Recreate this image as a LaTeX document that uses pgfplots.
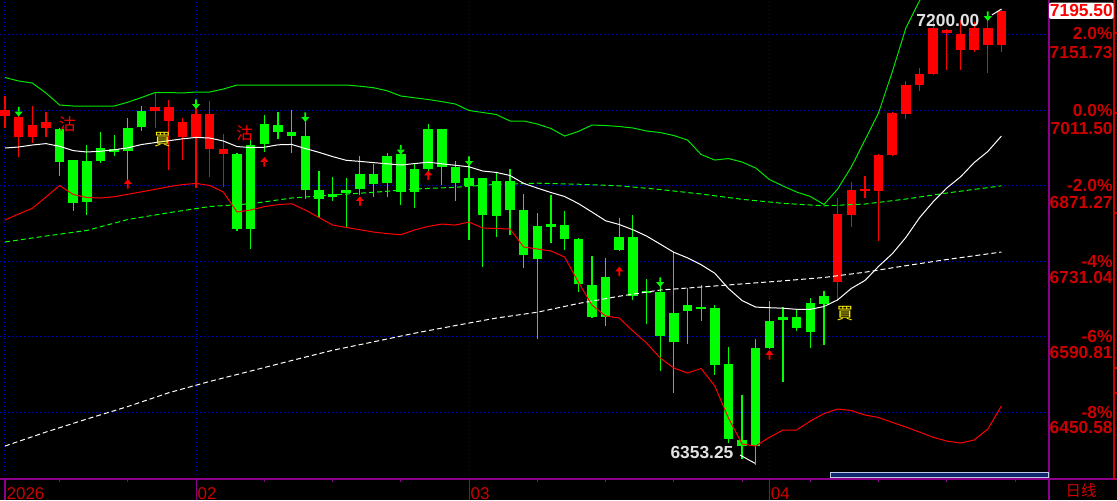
\documentclass[border=0pt]{standalone}
\usepackage{pgfplots}
\pgfplotsset{compat=1.18}
\usepackage{pgfplotstable}
\usepackage{fontspec}
\setmainfont{Liberation Sans}
\newfontfamily\cjk{Noto Sans CJK TC}

\definecolor{upred}{RGB}{255,0,0}
\definecolor{dngreen}{RGB}{0,255,0}
\definecolor{gridblue}{RGB}{0,0,200}
\definecolor{axpurple}{RGB}{140,0,140}
\definecolor{lblred}{RGB}{205,0,0}
\definecolor{barnavy}{RGB}{15,40,110}
\definecolor{hilo}{RGB}{225,225,225}

% signal arrows
\pgfdeclareplotmark{sigdn}{%
  \pgfpathrectangle{\pgfqpoint{-0.22\pgfplotmarksize}{0pt}}{\pgfqpoint{0.44\pgfplotmarksize}{1.3\pgfplotmarksize}}%
  \pgfpathmoveto{\pgfqpoint{-\pgfplotmarksize}{0.1\pgfplotmarksize}}%
  \pgfpathlineto{\pgfqpoint{\pgfplotmarksize}{0.1\pgfplotmarksize}}%
  \pgfpathlineto{\pgfqpoint{0pt}{-1.1\pgfplotmarksize}}%
  \pgfpathclose
  \pgfusepathqfill}
\pgfdeclareplotmark{sigup}{%
  \pgfpathrectangle{\pgfqpoint{-0.22\pgfplotmarksize}{0pt}}{\pgfqpoint{0.44\pgfplotmarksize}{-1.3\pgfplotmarksize}}%
  \pgfpathmoveto{\pgfqpoint{-\pgfplotmarksize}{-0.1\pgfplotmarksize}}%
  \pgfpathlineto{\pgfqpoint{\pgfplotmarksize}{-0.1\pgfplotmarksize}}%
  \pgfpathlineto{\pgfqpoint{0pt}{1.1\pgfplotmarksize}}%
  \pgfpathclose
  \pgfusepathqfill}

% rising days (red)
\pgfplotstableread{
i o h l c
0 7000.9 7037.5 6978.6 7011.5
1 6961.4 7007.8 6924.8 6998.5
2 6961.4 7019.0 6950.8 6983.6
3 6978.6 7007.8 6961.4 6989.2
11 7009.6 7043.6 6978.6 7017.1
12 6991.1 7030.1 6900.1 7017.1
13 6961.4 6996.6 6918.7 6989.2
14 6961.4 7030.0 6866.7 7004.1
15 6939.1 7028.2 6887.1 7004.1
16 6929.8 6966.9 6868.5 6939.1
61 6692.1 6848.1 6656.8 6818.4
62 6816.5 6877.8 6794.2 6863.0
63 6861.1 6888.9 6848.1 6864.8
64 6861.1 6929.8 6768.2 6927.9
65 6927.9 7007.8 6926.0 7005.9
66 7004.1 7065.4 6994.8 7057.9
67 7057.9 7089.5 7046.8 7078.4
68 7078.4 7187.9 7076.5 7163.8
69 7154.5 7162.0 7085.8 7160.1
70 7122.9 7178.6 7085.8 7152.6
71 7122.9 7175.5 7120.0 7163.8
72 7132.2 7187.0 7080.2 7163.8
73 7132.2 7200.0 7119.2 7195.5
}\upk

% falling days (green)
\pgfplotstableread{
i o h l c
4 6976.2 6977.5 6889.5 6915.5
5 6918.7 6919.5 6824.5 6839.4
6 6916.8 6946.5 6816.5 6841.2
7 6940.9 6970.6 6913.6 6916.8
8 6939.1 6965.0 6926.1 6934.1
9 6978.1 6996.6 6881.5 6935.9
10 7009.6 7019.0 6972.5 6979.9
17 6929.8 6931.0 6787.4 6790.5
18 6946.5 6965.0 6753.4 6790.5
19 6985.5 7002.2 6933.5 6948.4
20 6983.6 7007.8 6957.6 6970.6
21 6970.6 7011.5 6931.6 6963.2
22 6963.2 6996.6 6846.2 6863.0
23 6863.0 6898.2 6810.9 6846.2
24 6855.5 6887.1 6842.5 6850.0
25 6863.0 6885.2 6794.2 6857.4
26 6892.7 6926.1 6853.7 6864.8
27 6892.7 6911.2 6850.0 6874.1
28 6926.1 6931.6 6850.0 6875.9
29 6929.8 6933.5 6835.1 6859.2
30 6901.9 6913.1 6829.5 6859.2
31 6976.2 6985.5 6898.2 6901.9
32 6976.2 6977.0 6872.2 6905.7
33 6905.7 6916.8 6842.5 6876.0
34 6885.2 6909.4 6770.1 6870.4
35 6885.2 6886.0 6720.0 6816.5
36 6879.7 6894.5 6775.7 6814.7
37 6879.7 6901.9 6779.4 6825.8
38 6825.8 6855.5 6718.1 6742.3
39 6796.1 6820.2 6586.3 6734.8
40 6799.8 6853.7 6764.5 6794.2
41 6798.0 6824.0 6751.5 6772.0
42 6772.0 6773.0 6673.5 6688.4
43 6686.5 6740.4 6625.0 6627.1
44 6701.4 6736.7 6610.4 6627.1
45 6775.7 6811.0 6750.0 6751.5
46 6775.7 6816.5 6658.7 6666.1
47 6675.4 6697.7 6614.1 6673.5
48 6673.5 6697.7 6526.8 6591.8
49 6634.5 6747.8 6486.0 6580.7
50 6649.4 6681.0 6577.0 6638.2
51 6645.7 6686.5 6619.7 6643.8
52 6643.8 6649.4 6519.4 6538.0
53 6539.8 6571.4 6393.2 6400.6
54 6398.7 6482.3 6363.4 6387.6
55 6569.5 6586.3 6353.25 6387.6
56 6619.7 6656.8 6568.0 6569.5
57 6627.1 6645.7 6506.4 6621.5
58 6627.1 6642.0 6601.1 6606.7
59 6653.1 6662.4 6569.5 6599.3
60 6666.1 6675.4 6575.1 6651.3
}\dnk

% bollinger upper
\pgfplotstableread{
i v
0 7071.9
1 7065.4
2 7061.6
3 7043.1
4 7020.8
5 7018.9
8 7018.9
9 7026.0
10 7034.7
11 7044.0
12 7044.0
13 7043.1
14 7044.9
15 7044.9
16 7050.5
17 7057.9
25 7057.9
26 7055.7
27 7052.9
28 7047.2
29 7037.5
30 7034.2
31 7031.0
32 7027.1
33 7022.6
34 7010.6
35 7006.9
36 7003.1
37 6991.1
38 6991.1
39 6985.5
40 6977.1
41 6963.2
42 6971.6
43 6983.6
44 6982.7
45 6980.9
46 6978.1
47 6972.5
48 6969.7
49 6964.1
50 6955.8
51 6928.9
52 6918.6
53 6921.4
54 6914.9
55 6903.8
56 6882.4
57 6870.4
58 6859.2
59 6850.9
60 6836.0
61 6864.8
62 6905.7
63 6955.8
64 7006.3
65 7082.1
66 7163.8
67 7214.3
68 7264.1
69 7300.0
}\upb

% bollinger middle
\pgfplotstableread{
i v
0 6940.9
1 6942.8
2 6946.5
3 6949.1
4 6944.1
5 6936.1
6 6933.5
7 6935.0
8 6937.6
9 6941.3
10 6947.4
11 6951.0
12 6954.5
13 6958.0
14 6960.6
15 6959.5
16 6953.9
17 6943.7
18 6941.7
19 6942.4
20 6946.9
21 6947.6
22 6940.0
23 6932.9
24 6925.0
25 6918.1
26 6916.1
27 6913.8
28 6911.6
29 6909.4
30 6912.0
31 6914.6
32 6911.6
33 6908.8
34 6906.0
35 6898.2
36 6895.6
37 6889.9
38 6875.2
39 6866.5
40 6858.3
41 6850.9
42 6837.9
43 6822.1
44 6805.9
45 6798.9
46 6789.2
47 6777.5
48 6762.5
49 6747.3
50 6737.0
51 6724.2
52 6708.4
53 6680.0
54 6657.7
55 6645.5
56 6644.4
57 6643.4
58 6641.4
59 6641.4
60 6646.6
61 6658.9
62 6680.2
63 6694.9
64 6721.2
65 6744.5
66 6774.9
67 6811.5
68 6841.2
69 6866.8
70 6887.3
71 6913.8
72 6934.4
73 6963.2
}\mdb

% bollinger lower
\pgfplotstableread{
i v
0 6807.2
1 6818.4
2 6829.0
3 6849.9
4 6871.3
5 6854.6
6 6849.0
7 6848.1
8 6850.5
9 6855.0
10 6859.6
11 6864.2
12 6869.1
13 6873.0
14 6875.2
15 6871.3
16 6859.2
17 6822.1
18 6825.8
19 6832.1
20 6835.8
21 6837.5
22 6825.8
23 6811.9
24 6797.9
25 6793.5
26 6789.2
27 6784.9
28 6782.0
29 6779.9
30 6788.7
31 6795.3
32 6799.8
33 6797.9
34 6803.5
35 6792.4
36 6791.4
37 6790.5
38 6757.1
39 6753.4
40 6749.7
41 6738.5
42 6692.1
43 6649.4
44 6629.0
45 6625.2
46 6601.1
47 6578.8
48 6551.0
49 6532.4
50 6523.1
51 6531.5
52 6499.0
53 6439.5
54 6391.3
55 6387.5
56 6403.7
57 6417.3
58 6417.3
59 6434.0
60 6447.7
61 6456.3
62 6453.5
63 6445.1
64 6440.5
65 6431.5
66 6422.8
67 6413.5
68 6403.7
69 6396.8
70 6393.1
71 6398.7
72 6419.1
73 6461.8
}\lob

% long averages (dashed)
\pgfplotstableread{
i g w
0 6766.4 6387.5
3 6777.5 6413.5
6 6787.9 6437.7
9 6808.2 6460.9
12 6820.8 6486.5
15 6832.3 6507.5
18 6837.3 6526.8
21 6848.1 6546.3
24 6853.7 6565.3
27 6858.7 6581.0
30 6864.8 6597.0
33 6868.0 6611.3
36 6873.5 6625.2
39 6875.6 6636.0
42 6873.7 6652.2
45 6870.7 6665.7
48 6863.9 6677.2
51 6855.5 6682.8
54 6845.7 6688.6
57 6838.2 6694.3
60 6833.6 6700.5
63 6836.9 6710.3
66 6846.2 6722.4
69 6857.4 6733.9
73 6870.7 6747.8
}\mas

\begin{document}
\begin{tikzpicture}
\path[use as bounding box] (0,0) rectangle (558.5pt,250pt);
\fill[black] (0,0) rectangle (558.5pt,250pt);

\begin{axis}[
  at={(0pt,10.5pt)}, anchor=south west,
  scale only axis, width=524.25pt, height=239.5pt,
  xmin=-0.366, xmax=76.45, ymin=6326.3, ymax=7215.8,
  axis line style={draw=none},
  xtick={0,14,34,56}, xticklabels={2026,02,03,04},
  xticklabel style={anchor=north west, inner sep=0pt, yshift=-3.9pt, xshift=0.6pt,
    text=lblred, font=\fontsize{8.5}{9}\selectfont},
  ytick={6450.58,6590.81,6731.04,6871.27,7011.5,7151.73}, yticklabels={},
  major tick length=0pt,
  xmajorgrids, ymajorgrids,
  grid style={gridblue, line width=0.5pt, dash pattern=on 0.5pt off 1.5pt},
  clip mode=individual,
  candle/.style={draw=none, mark=none, forget plot,
    error bars/y dir=both, error bars/y explicit, error bars/error mark=none},
]
% wicks
\addplot[candle, error bars/error bar style={draw=upred, line width=0.6pt}]
  table[x=i, y expr={(\thisrow{h}+\thisrow{l})/2}, y error expr={(\thisrow{h}-\thisrow{l})/2}] {\upk};
\addplot[candle, error bars/error bar style={draw=dngreen, line width=0.6pt}]
  table[x=i, y expr={(\thisrow{h}+\thisrow{l})/2}, y error expr={(\thisrow{h}-\thisrow{l})/2}] {\dnk};
% bodies
\addplot[candle, error bars/error bar style={draw=upred, line width=4.75pt}]
  table[x=i, y expr={(\thisrow{o}+\thisrow{c})/2}, y error expr={max(abs(\thisrow{c}-\thisrow{o})/2,0.9)}] {\upk};
\addplot[candle, error bars/error bar style={draw=dngreen, line width=4.75pt}]
  table[x=i, y expr={(\thisrow{o}+\thisrow{c})/2}, y error expr={max(abs(\thisrow{c}-\thisrow{o})/2,0.9)}] {\dnk};

% indicator lines
\addplot[dngreen, mark=none, line width=0.5pt, dash pattern=on 2.5pt off 1.5pt] table[x=i, y=g] {\mas};
\addplot[white, mark=none, line width=0.5pt, dash pattern=on 2.5pt off 1.5pt] table[x=i, y=w] {\mas};
\addplot[dngreen!90!black, mark=none, line width=0.5pt] table[x=i, y=v] {\upb};
\addplot[white, mark=none, line width=0.5pt] table[x=i, y=v] {\mdb};
\addplot[upred, mark=none, line width=0.5pt] table[x=i, y=v] {\lob};

% signals
\addplot[only marks, mark=sigdn, mark size=2pt, color=dngreen] coordinates {
  (1,7007.8) (14,7021.7) (22,6997.6) (29,6937.2) (34,6915.9) (48,6691.2) (72,7185.1)};
\addplot[only marks, mark=sigup, mark size=2pt, color=upred] coordinates {
  (9,6875.0) (19,6915.9) (26,6843.4) (31,6890.8) (45,6712.5) (56,6557.5)};

% high / low markers
\addplot[white, mark=none, line width=0.5pt] coordinates {(72.3,7188) (73.0,7199)};
\addplot[white, mark=none, line width=0.5pt] coordinates {(53.85,6370.8) (54.95,6355.4)};
\node[text=hilo, inner sep=0pt, font=\bfseries\fontsize{8.7}{9}\selectfont] at (axis cs:69.08,7177.7) {7200.00};
\node[text=hilo, inner sep=0pt, font=\bfseries\fontsize{8.7}{9}\selectfont] at (axis cs:51.06,6376.4) {6353.25};

\node[text=upred, inner sep=0pt, font=\cjk\fontsize{8.3}{9}\selectfont] at (axis cs:4.58,6984.6) {沽};
\node[text=upred, inner sep=0pt, font=\cjk\fontsize{8.3}{9}\selectfont] at (axis cs:17.55,6967.9) {沽};
\node[text=yellow, inner sep=0pt, font=\cjk\fontsize{8.3}{9}\selectfont] at (axis cs:11.54,6956.7) {買};
\node[text=yellow, inner sep=0pt, font=\cjk\fontsize{8.3}{9}\selectfont] at (axis cs:61.54,6633.6) {買};
\end{axis}

\begin{scope}[x=0.5pt, y=0.5pt]
  % frame lines
  \draw[axpurple, line width=0.6pt] (0,21) -- (1117,21);
  \draw[axpurple, line width=0.6pt] (1049,0) -- (1049,500);
  \draw[lblred, line width=0.6pt] (1114,500) -- (1114,20);
  \foreach \yy in {467,387,287,132,107} \draw[lblred, line width=0.6pt] (1114,\yy) -- (1117,\yy);
  \foreach \xx in {5,196.1,469.1,769.4} \draw[axpurple, line width=0.6pt] (\xx,21) -- (\xx,0);
  \foreach \k in {4,9,...,74} \draw[axpurple, line width=0.6pt] ({5+13.65*\k},21) -- ++(0,-3);
  % scroll bar
  \draw[fill=barnavy, draw={rgb,255:red,190;green,200;blue,230}, line width=0.5pt] (830,22.7) rectangle (1048,27.3);
  % right scale
  \begin{scope}[every node/.style={anchor=east, inner sep=0pt, text=lblred, font=\bfseries\fontsize{8.7}{9}\selectfont}]
    \node at (1113,466.5) {2.0\%};
    \node at (1113,447.5) {7151.73};
    \node at (1113,389) {0.0\%};
    \node at (1113,371.5) {7011.50};
    \node at (1113,314) {-2.0\%};
    \node at (1113,297) {6871.27};
    \node at (1113,238) {-4\%};
    \node at (1113,222) {6731.04};
    \node at (1113,163) {-6\%};
    \node at (1113,147.5) {6590.81};
    \node at (1113,88) {-8\%};
    \node at (1113,72.5) {6450.58};
  \end{scope}
  \node[anchor=east, fill=white, rounded corners=1pt, inner xsep=0.4pt, inner ysep=1pt,
    text=upred, font=\bfseries\fontsize{8.7}{9}\selectfont] at (1114,489.2) {7195.50};
  \node[text=lblred, inner sep=0pt, font=\cjk\fontsize{7.7}{8}\selectfont] at (1081,9) {日线};
\end{scope}
\end{tikzpicture}
\end{document}
